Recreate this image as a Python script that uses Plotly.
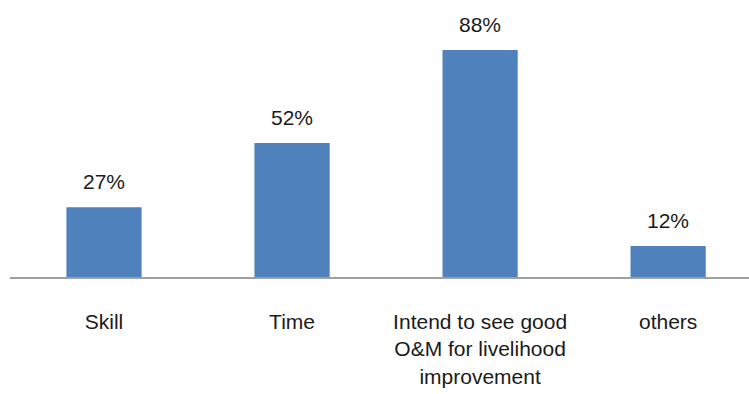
import plotly.graph_objects as go

categories = ["Skill", "Time", "Intend to see good<br>O&M for livelihood<br>improvement", "others"]
values = [27, 52, 88, 12]
labels = ["27%", "52%", "88%", "12%"]

FONT = "Liberation Sans, Arial, sans-serif"

fig = go.Figure()
fig.add_trace(go.Bar(
    x=categories, y=values, width=0.4,
    marker=dict(color="#4F81BD", line=dict(width=0)),
    hoverinfo="skip",
))

for c, v, t in zip(categories, values, labels):
    fig.add_annotation(x=c, y=v, text=t, showarrow=False, yanchor="bottom",
                       yshift=12, font=dict(family=FONT, size=21, color="#1a1a1a"))

fig.update_layout(
    width=749, height=394,
    margin=dict(l=10, r=0, t=0, b=117),
    paper_bgcolor="white", plot_bgcolor="white",
    showlegend=False,
    font=dict(family=FONT, size=21, color="#1a1a1a"),
    bargap=0.6,
)
fig.update_xaxes(
    type="category", range=[-0.5, 3.43],
    showline=True, linecolor="#A0A0A0", linewidth=1.5,
    showgrid=False, ticks="", ticklabelstandoff=25,
    tickfont=dict(family=FONT, size=21, color="#1a1a1a"),
)
fig.update_yaxes(range=[0, 107.4], visible=False, showgrid=False, zeroline=False)

fig.write_html("out.html")
